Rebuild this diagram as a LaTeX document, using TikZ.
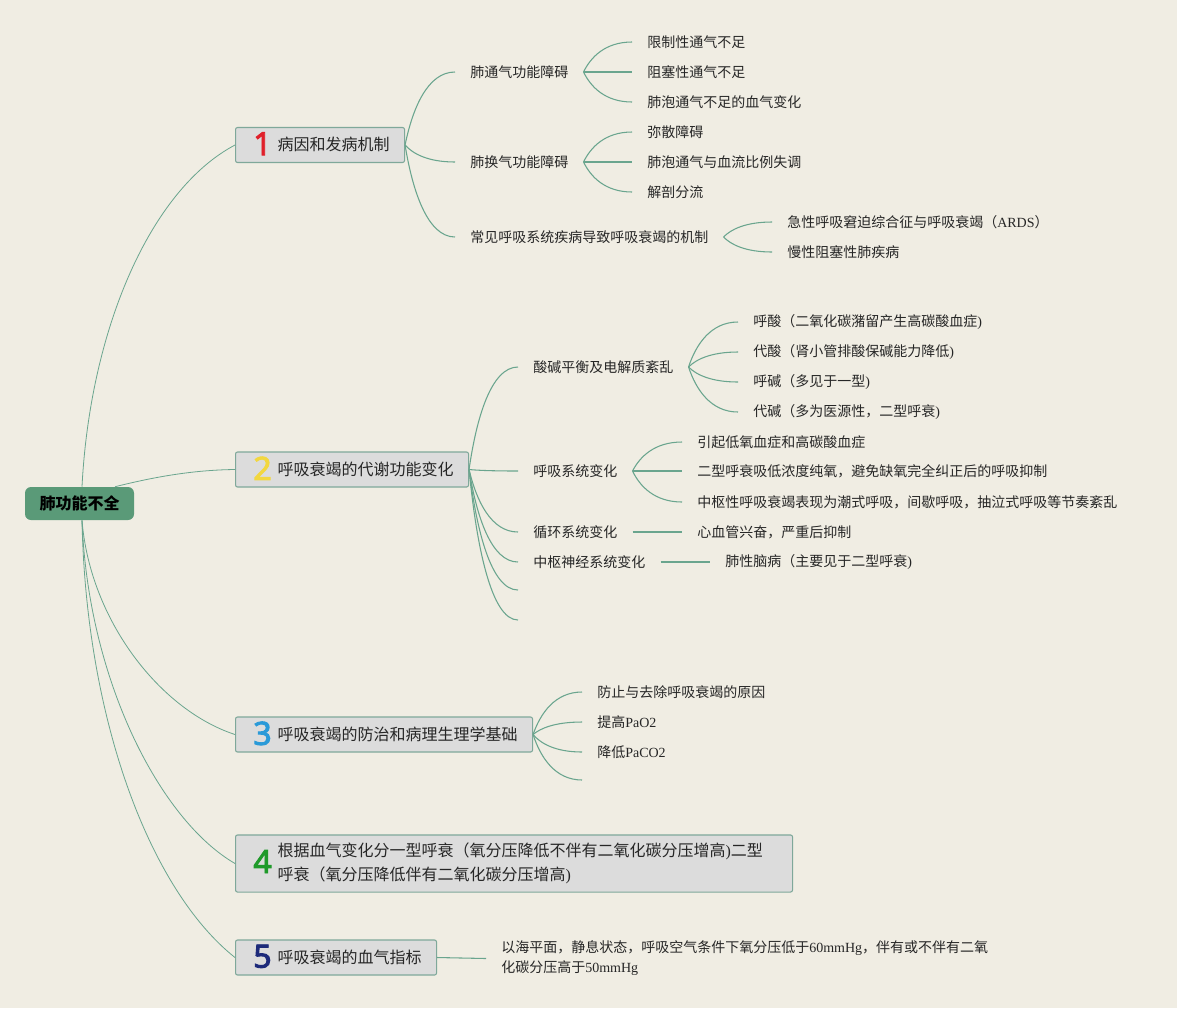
\documentclass[tikz,border=0pt]{standalone}
\usepackage{fontspec}
\setmainfont{Noto Sans CJK SC}
\newfontfamily\latfont{Liberation Serif}
\newfontfamily\digfont{Noto Sans}[FakeBold=3]
\newcommand\lat[1]{{\latfont #1}}
\usetikzlibrary{calc}
\definecolor{bg}{HTML}{F0EDE3}
\definecolor{conncol}{HTML}{6AA58E}
\definecolor{rootfill}{HTML}{5A9A78}
\definecolor{topicfill}{HTML}{DCDCDC}
\definecolor{topicdraw}{HTML}{7FA89A}
\definecolor{dred}{HTML}{E0202A}
\definecolor{dyellow}{HTML}{F2D740}
\definecolor{dblue}{HTML}{2A9AD8}
\definecolor{dgreen}{HTML}{1F9A2A}
\definecolor{dnavy}{HTML}{1D2A7A}
\definecolor{txt}{HTML}{262626}
\newcommand\tnum[2]{\parbox[c]{16.5pt}{\centering\digfont\fontsize{24}{24}\selectfont\color{#1}#2}}
\newcommand\ttext[1]{\raisebox{-1.5pt}{\begin{tabular}[c]{@{}l@{}}#1\end{tabular}}}
\newcommand\tcontent[3]{\mbox{\hspace*{0.75pt}\tnum{#1}{#2}\hspace{3pt}\ttext{#3}}}
\tikzset{
  rootbox/.style={fill=rootfill, rounded corners=4.5pt, minimum width=81.75pt, minimum height=24.75pt, inner sep=0pt, font=\fontsize{12}{14}\selectfont\bfseries, text=black},
  topicbox/.style={draw=topicdraw, fill=topicfill, line width=0.8pt, rounded corners=1.5pt, inner xsep=11.25pt, inner ysep=3.4pt, minimum height=26.25pt, align=left, anchor=west, text=txt, font=\fontsize{12}{18}\selectfont},
  leaf/.style={anchor=west, inner xsep=11.25pt, inner ysep=2pt, yshift=-0.75pt, text=txt, font=\fontsize{10.5}{15}\selectfont},
  rootconn/.style={draw=conncol, line width=0.6pt},
  conn/.style={draw=conncol, line width=0.8pt},
  fan/.style={to path={let \p1=(\tikztostart), \p2=(\tikztotarget) in .. controls ({\x1+0.15*(\x2-\x1)},{\y1+0.5*(\y2-\y1)}) and ({\x1+0.45*(\x2-\x1)},\y2) .. (\tikztotarget)}}
}
\begin{document}
\begin{tikzpicture}[x=0.75pt, y=0.75pt]
\fill[bg] (0,0) rectangle (1177,-1008);
\useasboundingbox (0,0) rectangle (1177,-1008);

% root
\node[rootbox] (root) at (79.5,-503.5) {肺功能不全};

% topics
\node[topicbox, text width=104.25pt] (t1) at (235,-145) {\tcontent{dred}{1}{病因和发病机制}};
\node[topicbox, text width=152.25pt] (t2) at (235,-469.5) {\tcontent{dyellow}{2}{呼吸衰竭的代谢功能变化}};
\node[topicbox, text width=200.25pt] (t3) at (235,-734.5) {\tcontent{dblue}{3}{呼吸衰竭的防治和病理生理学基础}};
\node[topicbox, text width=395.25pt] (t4) at (235,-863.5) {\tcontent{dgreen}{4}{根据血气变化分一型呼衰（氧分压降低不伴有二氧化碳分压增高\lat{)}二型\\呼衰（氧分压降低伴有二氧化碳分压增高\lat{)}}};
\node[topicbox, text width=128.25pt] (t5) at (235,-957.5) {\tcontent{dnavy}{5}{呼吸衰竭的血气指标}};

% root connectors
\draw[rootconn] ($(root.north)+(2.5,0)$) .. controls (90,-330) and (150,-190) .. (t1.west);
\draw[rootconn] ($(root.north)+(35.5,0)$) .. controls (150,-478) and (190,-470) .. (t2.west);
\draw[rootconn] ($(root.south)+(2.5,0)$) .. controls (90,-620) and (160,-710) .. (t3.west);
\draw[rootconn] ($(root.south)+(2.5,0)$) .. controls (88,-680) and (160,-820) .. (t4.west);
\draw[rootconn] ($(root.south)+(2.5,0)$) .. controls (86,-720) and (150,-890) .. (t5.west);

% topic 1 children
\node[leaf] (a1) at (455,-71) {肺通气功能障碍};
\node[leaf] (a11) at (632,-41) {限制性通气不足};
\node[leaf] (a12) at (632,-71) {阻塞性通气不足};
\node[leaf] (a13) at (632,-101) {肺泡通气不足的血气变化};
\node[leaf] (a2) at (455,-161) {肺换气功能障碍};
\node[leaf] (a21) at (632,-131) {弥散障碍};
\node[leaf] (a22) at (632,-161) {肺泡通气与血流比例失调};
\node[leaf] (a23) at (632,-191) {解剖分流};
\node[leaf] (a3) at (455,-236) {常见呼吸系统疾病导致呼吸衰竭的机制};
\node[leaf] (a31) at (772,-221) {急性呼吸窘迫综合征与呼吸衰竭（\lat{ARDS}）};
\node[leaf] (a32) at (772,-251) {慢性阻塞性肺疾病};

\foreach \c in {a1,a2,a3} \draw[conn] (t1.east) to[fan] (\c.west);
\foreach \c in {a11,a12,a13} \draw[conn] (a1.east) to[fan] (\c.west);
\foreach \c in {a21,a22,a23} \draw[conn] (a2.east) to[fan] (\c.west);
\foreach \c in {a31,a32} \draw[conn] (a3.east) to[fan] (\c.west);

% topic 2 children
\node[leaf] (b1) at (518,-366) {酸碱平衡及电解质紊乱};
\node[leaf] (b11) at (738,-321) {呼酸（二氧化碳潴留产生高碳酸血症\lat{)}};
\node[leaf] (b12) at (738,-351) {代酸（肾小管排酸保碱能力降低\lat{)}};
\node[leaf] (b13) at (738,-381) {呼碱（多见于一型\lat{)}};
\node[leaf] (b14) at (738,-411) {代碱（多为医源性，二型呼衰\lat{)}};
\node[leaf] (b2) at (518,-470) {呼吸系统变化};
\node[leaf] (b21) at (682,-441) {引起低氧血症和高碳酸血症};
\node[leaf] (b22) at (682,-470) {二型呼衰吸低浓度纯氧，避免缺氧完全纠正后的呼吸抑制};
\node[leaf] (b23) at (682,-501) {中枢性呼吸衰竭表现为潮式呼吸，间歇呼吸，抽泣式呼吸等节奏紊乱};
\node[leaf] (b3) at (518,-531) {循环系统变化};
\node[leaf] (b31) at (682,-531) {心血管兴奋，严重后抑制};
\node[leaf] (b4) at (518,-561) {中枢神经系统变化};
\node[leaf] (b41) at (710,-561) {肺性脑病（主要见于二型呼衰\lat{)}};
\coordinate (b5) at (518,-590);
\coordinate (b6) at (518,-620);

\foreach \c in {b1,b2,b3,b4} \draw[conn] (t2.east) to[fan] (\c.west);
\draw[conn] (t2.east) to[fan] (b5);
\draw[conn] (t2.east) to[fan] (b6);
\foreach \c in {b11,b12,b13,b14} \draw[conn] (b1.east) to[fan] (\c.west);
\foreach \c in {b21,b22,b23} \draw[conn] (b2.east) to[fan] (\c.west);
\draw[conn] (b3.east) -- (b31.west);
\draw[conn] (b4.east) -- (b41.west);

% topic 3 children
\node[leaf] (c1) at (582,-691) {防止与去除呼吸衰竭的原因};
\node[leaf] (c2) at (582,-721) {提高\lat{PaO2}};
\node[leaf] (c3) at (582,-751) {降低\lat{PaCO2}};
\coordinate (c4) at (582,-780);
\foreach \c in {c1,c2,c3} \draw[conn] (t3.east) to[fan] (\c.west);
\draw[conn] (t3.east) to[fan] (c4);

% topic 5 child
\node[leaf, align=left] (d1) at (486,-957.5) {以海平面，静息状态，呼吸空气条件下氧分压低于\lat{60mmHg}，伴有或不伴有二氧\\化碳分压高于\lat{50mmHg}};
\draw[conn] (t5.east) -- (d1.west);
\end{tikzpicture}
\end{document}
